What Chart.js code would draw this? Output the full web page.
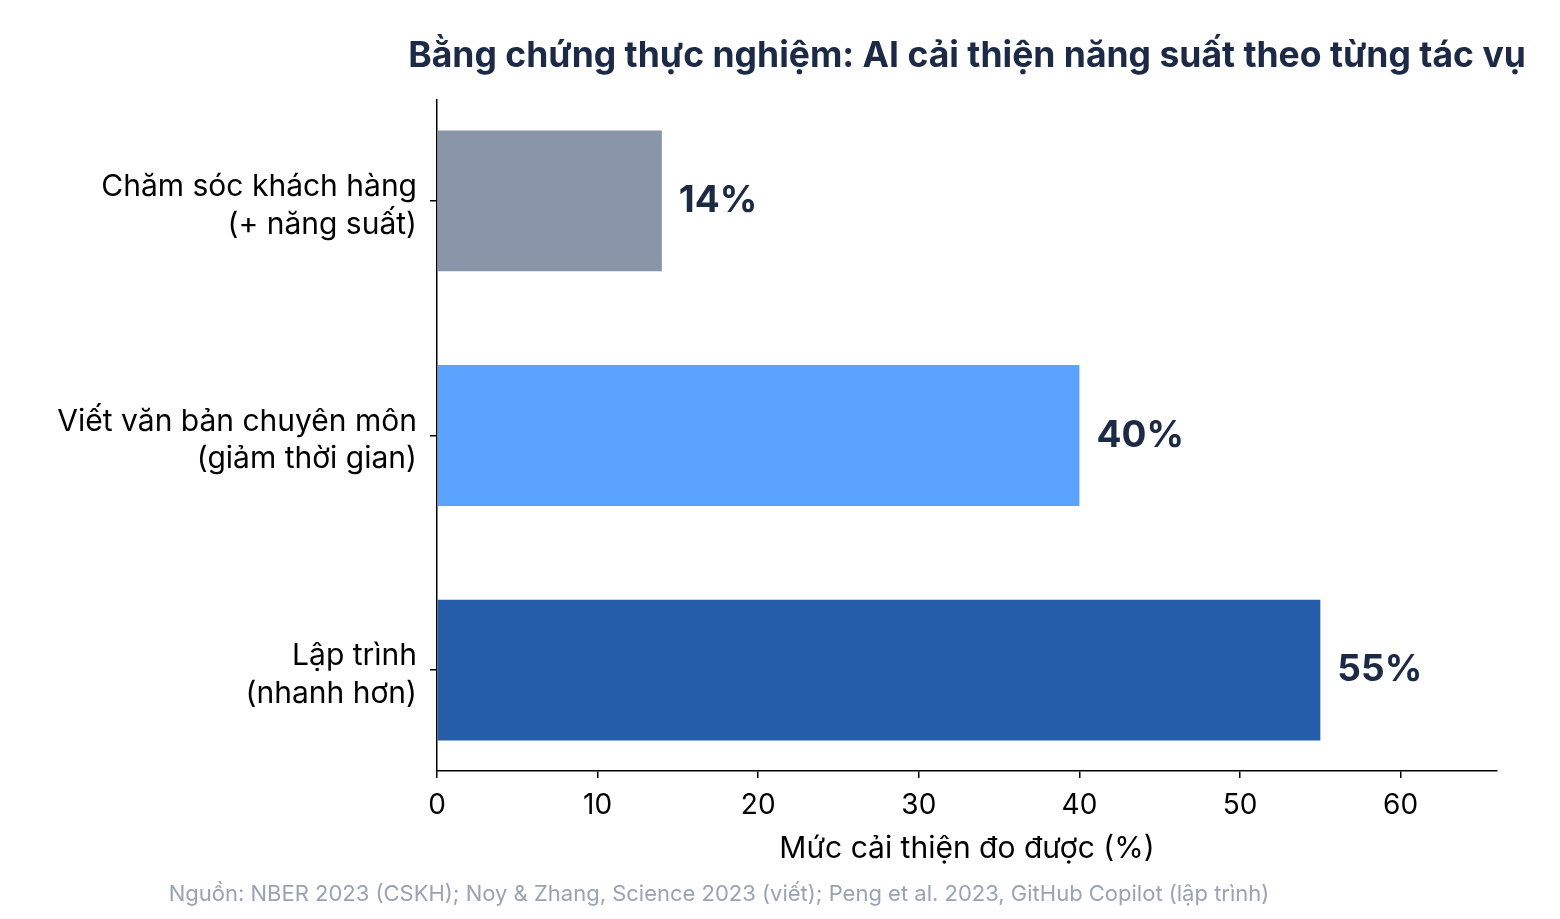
<!DOCTYPE html>
<html>
<head>
<meta charset="utf-8">
<script src="https://cdn.jsdelivr.net/npm/chart.js@4"></script>
<style>
  html, body { margin: 0; padding: 0; background: #ffffff; }
  #wrap { width: 1560px; height: 919px; }
</style>
</head>
<body>
<div id="wrap"><canvas id="myChart" width="1560" height="919"></canvas></div>
<script>
const categories = [
  ["Chăm sóc khách hàng", "(+ năng suất)"],
  ["Viết văn bản chuyên môn", "(giảm thời gian)"],
  ["Lập trình", "(nhanh hơn)"]
];
const improvement = [14, 40, 55];
const barColors = ["#8995a8", "#5aa3fe", "#255dab"];
const xTicks = [0, 10, 20, 30, 40, 50, 60];
const titleText = "Bằng chứng thực nghiệm: AI cải thiện năng suất theo từng tác vụ";
const sourceText = "Nguồn: NBER 2023 (CSKH); Noy & Zhang, Science 2023 (viết); Peng et al. 2023, GitHub Copilot (lập trình)";

const FONT = "Inter, 'DejaVu Sans', sans-serif";
const NAVY = "#1c2a45";

const points = improvement.map(function (v, i) { return { x: v, y: i }; });

// title over the plot area, value labels at bar ends, source line at the bottom
const labelPlugin = {
  id: "labelPlugin",
  afterDatasetsDraw: function (chart) {
    const ctx = chart.ctx;
    const area = chart.chartArea;
    const meta = chart.getDatasetMeta(0);
    ctx.save();
    ctx.font = "bold 35.5px " + FONT;
    ctx.fillStyle = NAVY;
    ctx.textAlign = "center";
    ctx.textBaseline = "middle";
    ctx.fillText(titleText, (area.left + area.right) / 2, 56);

    ctx.font = "bold 37px " + FONT;
    ctx.textAlign = "left";
    meta.data.forEach(function (bar, i) {
      ctx.fillText(improvement[i] + "%", bar.x + 17, bar.y);
    });

    ctx.font = "22px " + FONT;
    ctx.fillStyle = "#9aa3b1";
    ctx.textAlign = "center";
    ctx.fillText(sourceText, 719, 894);
    ctx.restore();
  }
};

const ctx = document.getElementById("myChart").getContext("2d");
const chart = new Chart(ctx, {
  type: "bar",
  data: {
    datasets: [{
      data: points,
      backgroundColor: barColors,
      borderWidth: 0,
      categoryPercentage: 1,
      barPercentage: 0.6
    }]
  },
  options: {
    indexAxis: "y",
    responsive: false,
    animation: false,
    devicePixelRatio: 1,
    layout: { padding: { left: 0, right: 63, top: 100, bottom: 52 } },
    plugins: {
      legend: { display: false },
      tooltip: { enabled: false },
      title: { display: false }
    },
    scales: {
      x: {
        type: "linear",
        min: 0,
        max: 66,
        offset: false,
        afterBuildTicks: function (scale) {
          scale.ticks = xTicks.map(function (v) { return { value: v }; });
        },
        afterFit: function (scale) { scale.height = 96; },
        grid: { drawOnChartArea: false, drawTicks: true, tickLength: 7, color: "#000000", lineWidth: 1.5, offset: false },
        border: { display: true, color: "#000000", width: 1.5 },
        ticks: {
          color: "#000000",
          font: { family: FONT, size: 28 },
          padding: 11
        },
        title: {
          display: true,
          text: "Mức cải thiện đo được (%)",
          color: "#000000",
          font: { family: FONT, size: 30 },
          padding: { top: 1, bottom: 0 }
        }
      },
      y: {
        type: "linear",
        reverse: true,
        min: -0.43,
        max: 2.43,
        offset: false,
        afterBuildTicks: function (scale) {
          scale.ticks = categories.map(function (c, i) { return { value: i }; });
        },
        afterFit: function (scale) { scale.width = 437; },
        grid: { drawOnChartArea: false, drawTicks: true, tickLength: 7, color: "#000000", lineWidth: 1.5, offset: false },
        border: { display: true, color: "#000000", width: 1.5 },
        ticks: {
          color: "#000000",
          font: { family: FONT, size: 30, lineHeight: 1.25 },
          padding: 13,
          labelOffset: 5,
          callback: function (value) { return categories[value]; }
        }
      }
    }
  },
  plugins: [labelPlugin]
});
</script>
</body>
</html>
